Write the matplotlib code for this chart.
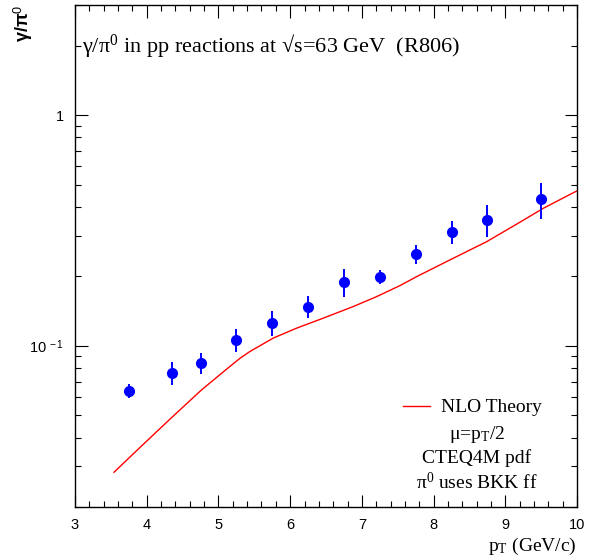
import matplotlib
matplotlib.use("Agg")
import matplotlib.pyplot as plt
from matplotlib.ticker import FixedLocator, FixedFormatter, MultipleLocator, LogLocator, NullFormatter

# R806 gamma/pi0 data
pt = [3.75, 4.35, 4.75, 5.25, 5.75, 6.25, 6.75, 7.25, 7.75, 8.25, 8.75, 9.5]
ratio = [0.0638, 0.0764, 0.0844, 0.106, 0.126, 0.1476, 0.189, 0.199, 0.250, 0.312, 0.351, 0.433]
ratio_err = [0.0045, 0.0085, 0.009, 0.012, 0.016, 0.016, 0.026, 0.013, 0.024, 0.037, 0.055, 0.077]

# NLO theory curve (mu = pT/2, CTEQ4M)
th_pt = [3.544, 3.952, 4.349, 4.767, 5.116, 5.301, 5.440, 5.765, 6.092, 6.463,
         6.881, 7.207, 7.532, 7.765, 8.229, 8.741, 9.160, 9.531, 9.973, 10.0]
th_ratio = [0.0283, 0.0374, 0.0489, 0.0645, 0.0793, 0.0883, 0.0945, 0.1080, 0.1193, 0.1318,
            0.1480, 0.1634, 0.1824, 0.1995, 0.2357, 0.2828, 0.3370, 0.3946, 0.4650, 0.469]

serif = "Liberation Serif"
sans = "Liberation Sans"
plt.rcParams['font.family'] = sans
plt.rcParams['mathtext.fontset'] = 'custom'
plt.rcParams['mathtext.rm'] = serif
plt.rcParams['mathtext.sf'] = sans
plt.rcParams['mathtext.it'] = serif + ':italic'

fig = plt.figure(figsize=(6.03, 5.56), dpi=100)
ax = fig.add_axes([0.1244, 0.0881, 0.8326, 0.9029])

ax.plot(th_pt, th_ratio, color='red', lw=1.0, label='NLO Theory')
ax.errorbar(pt, ratio, yerr=ratio_err, fmt='o', color='blue', ms=7, elinewidth=1.4, capsize=0)

ax.set_yscale('log')
ax.set_xlim(3, 10)
ax.set_ylim(0.02, 3)

ax.xaxis.set_major_locator(MultipleLocator(1))
ax.xaxis.set_minor_locator(MultipleLocator(0.2))
ax.yaxis.set_major_locator(FixedLocator([0.1, 1]))
ax.yaxis.set_major_formatter(FixedFormatter(['10$^{\\mathsf{\\ -1}}$', '1']))
ax.yaxis.set_minor_locator(LogLocator(base=10, subs=range(2, 10)))
ax.yaxis.set_minor_formatter(NullFormatter())
ax.tick_params(which='both', direction='in', top=True, right=True, labelsize=10.5, width=0.8)
ax.tick_params(which='major', length=9, pad=8)
ax.tick_params(which='minor', length=4.5)
for s in ax.spines.values():
    s.set_linewidth(1.0)

ax.set_xlabel('p$_\\mathregular{T}$ (GeV/c)', family=serif, fontsize=14, loc='right', labelpad=3)
fig.text(0.038, 0.992, 'γ/π$^\\mathsf{0}$', fontsize=13, rotation=90, ha='center', va='top',
         fontweight='bold')

ax.text(0.014, 0.920, 'γ/π$^\\mathregular{0}$ in pp reactions at √s=63 GeV  (R806)',
        transform=ax.transAxes, family=serif, fontsize=16, ha='left', va='center')

# legend block
ax.legend(loc='center left', bbox_to_anchor=(0.653, 0.198), frameon=False,
          prop={'family': serif, 'size': 14}, handlelength=1.4, handletextpad=0.55,
          borderpad=0, borderaxespad=0)
lx = 0.80
ax.text(lx, 0.145, 'μ=p$_\\mathregular{T}$/2', transform=ax.transAxes, family=serif,
        fontsize=14, ha='center', va='center')
ax.text(lx, 0.097, 'CTEQ4M pdf', transform=ax.transAxes, family=serif,
        fontsize=14, ha='center', va='center')
ax.text(lx, 0.048, 'π$^\\mathregular{0}$ uses BKK ff', transform=ax.transAxes, family=serif,
        fontsize=14, ha='center', va='center')

fig.savefig('out.png', dpi=100)
